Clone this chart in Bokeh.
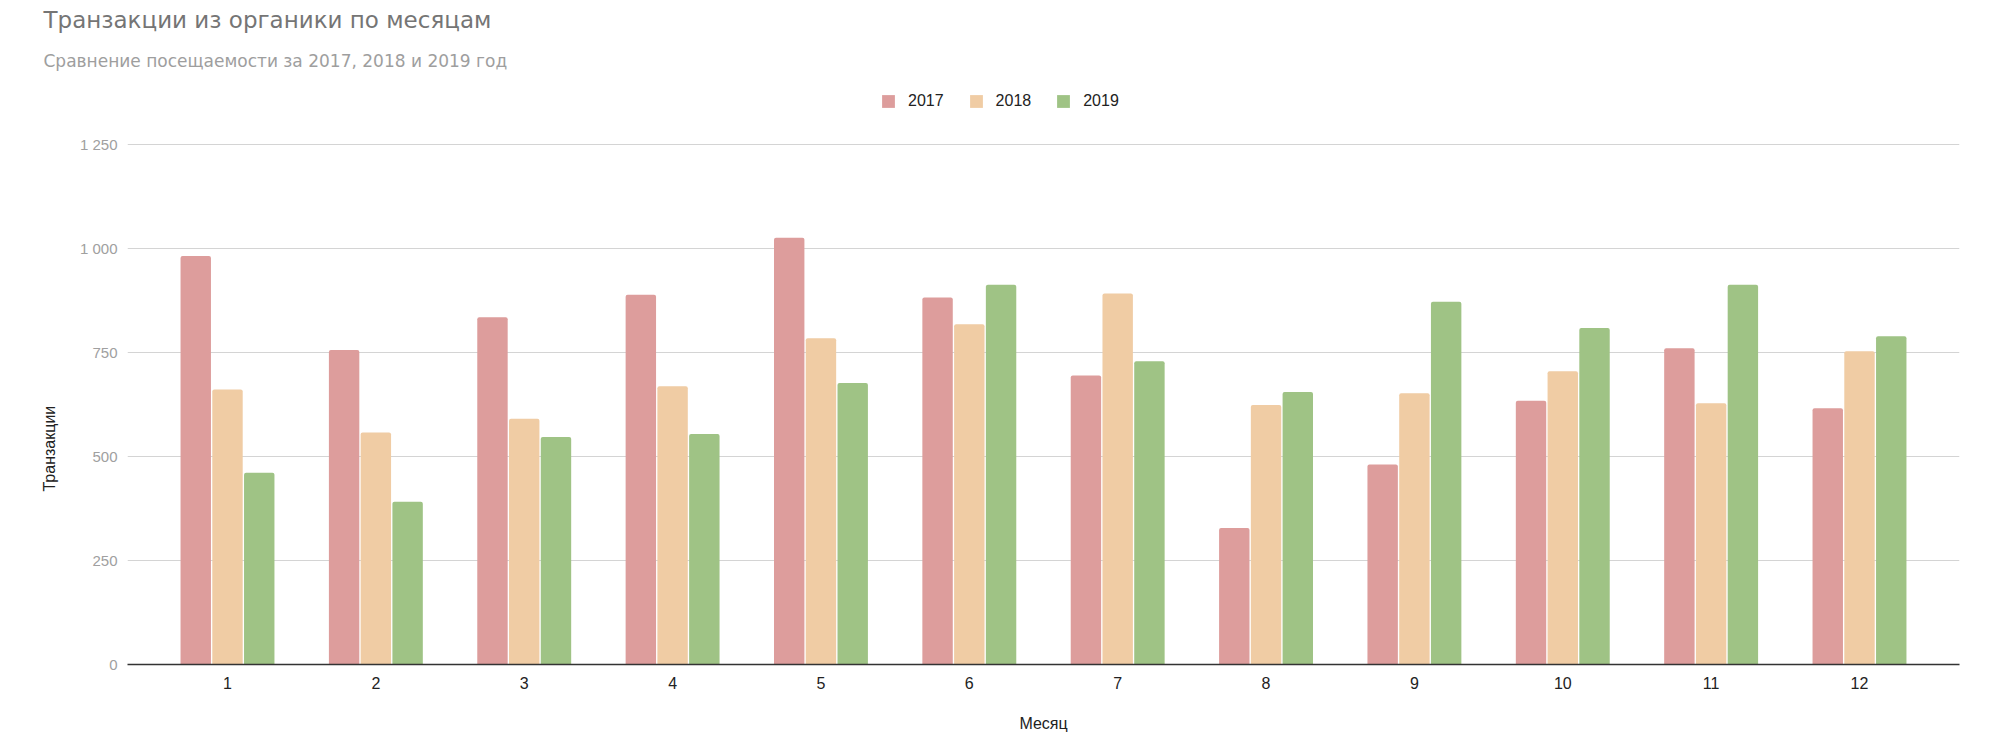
from bokeh.plotting import figure
from bokeh.models import (FactorRange, Range1d, FixedTicker, Legend,
                          LegendItem, ColumnDataSource, Title)
from bokeh.transform import dodge
from bokeh.embed import file_html
from bokeh.resources import INLINE

# ---- data ----
months = ["1", "2", "3", "4", "5", "6", "7", "8", "9", "10", "11", "12"]
years = ["2017", "2018", "2019"]
values_2017 = [982, 756, 835, 889, 1026, 882, 695, 328, 481, 634, 760, 616]
values_2018 = [661, 558, 591, 669, 784, 818, 892, 624, 652, 705, 628, 753]
values_2019 = [461, 391, 547, 554, 677, 913, 729, 655, 872, 809, 913, 789]
y_tick_values = [0, 250, 500, 750, 1000, 1250]
y_tick_labels = ["0", "250", "500", "750", "1\u00a0000", "1\u00a0250"]

title_text = "Транзакции из органики по месяцам"
subtitle_text = "Сравнение посещаемости за 2017, 2018 и 2019 год"
x_label = "Месяц"
y_label = "Транзакции"

colors = ["#dd9d9c", "#f0cca4", "#9fc385"]
FONT = "Liberation Sans"
TFONT = "DejaVu Sans"

source = ColumnDataSource(dict(month=months, v2017=values_2017,
                               v2018=values_2018, v2019=values_2019))

# frame extends above the top gridline to leave room for the legend
y_top = y_tick_values[-1] * 1.1135

p = figure(
    title=None,
    x_range=FactorRange(factors=months, range_padding=0.174,
                        range_padding_units="absolute"),
    y_range=Range1d(0, y_top),
    width=1999, height=739,
    output_backend="svg", toolbar_location=None,
    min_border_left=127, min_border_right=40,
    min_border_top=85, min_border_bottom=75,
)
p.outline_line_color = None
p.background_fill_color = "white"
p.border_fill_color = "white"

bar_w = 0.205
step = 0.214
renderers = []
for i, (yr, col) in enumerate(zip(years, colors)):
    r = p.vbar(x=dodge("month", (i - 1) * step, range=p.x_range),
               top="v" + yr, width=bar_w, source=source,
               fill_color=col, line_color=None, border_radius=(2, 2, 0, 0))
    renderers.append(r)

# axes
p.xgrid.grid_line_color = None
p.ygrid.grid_line_color = "#d4d4d4"
p.ygrid.grid_line_width = 1
p.yaxis.ticker = FixedTicker(ticks=y_tick_values)
p.yaxis.major_label_overrides = {v: l for v, l in zip(y_tick_values, y_tick_labels)}
p.yaxis.axis_line_color = None
p.yaxis.major_tick_line_color = None
p.yaxis.minor_tick_line_color = None
p.yaxis.major_label_standoff = 4
p.yaxis.major_label_text_font = FONT
p.yaxis.major_label_text_font_size = "15px"
p.yaxis.major_label_text_color = "#a0a0a0"

p.xaxis.axis_line_color = "#333333"
p.xaxis.axis_line_width = 1.5
p.xaxis.major_tick_line_color = None
p.xaxis.minor_tick_line_color = None
p.xaxis.major_label_standoff = 6
p.xaxis.major_label_text_font = FONT
p.xaxis.major_label_text_font_size = "16px"
p.xaxis.major_label_text_color = "#222222"
p.xaxis.axis_label = x_label
p.xaxis.axis_label_standoff = 23
p.xaxis.axis_label_text_font = FONT
p.xaxis.axis_label_text_font_size = "16px"
p.xaxis.axis_label_text_font_style = "normal"
p.xaxis.axis_label_text_color = "#222222"

legend = Legend(
    items=[LegendItem(label=yr, renderers=[r]) for yr, r in zip(years, renderers)],
    orientation="horizontal", location=(753, 554),
    glyph_width=16, glyph_height=16, label_height=16, label_standoff=12,
    spacing=24, padding=0, margin=0, border_line_color=None,
    background_fill_alpha=0, label_text_font=FONT,
    label_text_font_size="16px", label_text_color="#222222",
)
p.add_layout(legend, "center")

p.add_layout(Title(text=subtitle_text, align="left", offset=-84,
                   text_font=TFONT, text_font_size="17px",
                   text_font_style="normal", text_color="#9e9e9e",
                   standoff=30), "above")
p.add_layout(Title(text=title_text, align="left", offset=-84,
                   text_font=TFONT, text_font_size="23px",
                   text_font_style="normal", text_color="#757575",
                   standoff=2), "above")
p.add_layout(Title(text=y_label, align="left", offset=173,
                   text_font=FONT, text_font_size="16px",
                   text_font_style="normal", text_color="#222222",
                   standoff=37), "left")

open("out.html", "w").write(file_html(p, INLINE))
